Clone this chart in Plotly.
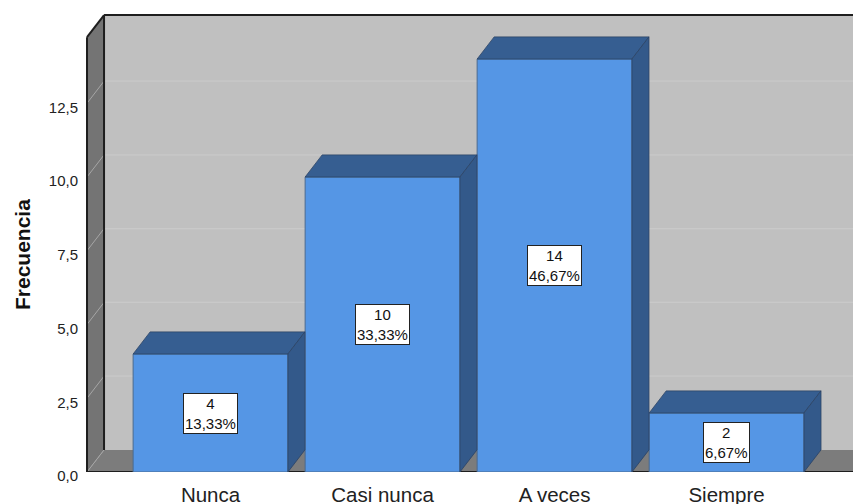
import plotly.graph_objects as go

# Frequency table
categories = ["Nunca", "Casi nunca", "A veces", "Siempre"]
counts = [4, 10, 14, 2]
percents = ["13,33%", "33,33%", "46,67%", "6,67%"]
y_ticks = [0, 2.5, 5.0, 7.5, 10.0, 12.5]

# Pseudo-3D geometry (category units / value units)
BAR_W = 0.9
DX = 0.099          # depth offset along x
DY = 0.75           # depth offset along y
X0, X1 = -0.7297, 3.735
Y_TOP = 15.56
WALL_X = -0.718
WALL_TOP = 15.49

FRONT = "#5596e5"
TOP = "#365e91"
SIDE = "#33598a"
EDGE = "#2c4466"
FONT = "Liberation Sans, Arial"

fig = go.Figure()

# Back wall, left wall and floor
shapes = [
    dict(type="rect", x0=WALL_X + DX, x1=X1 + 1, y0=DY, y1=WALL_TOP,
         fillcolor="#c0c0c0", line=dict(width=0), layer="below"),
    dict(type="path",
         path=f"M {WALL_X},0 L {WALL_X},{WALL_TOP - DY} L {WALL_X + DX},{WALL_TOP} L {WALL_X + DX},{DY} Z",
         fillcolor="#747474", line=dict(width=0), layer="below"),
    dict(type="path",
         path=f"M {WALL_X},0 L {WALL_X + DX},{DY} L {X1 + 1},{DY} L {X1 + 1},0 Z",
         fillcolor="#7c7c7c", line=dict(width=0), layer="below"),
]
# grid lines on the back wall and their diagonals on the left wall
for v in y_ticks[1:]:
    shapes.append(dict(type="line", x0=WALL_X + DX, x1=X1 + 1, y0=v + DY, y1=v + DY,
                       line=dict(color="#c9c9c9", width=1.2), layer="below"))
for v in y_ticks:
    shapes.append(dict(type="line", x0=WALL_X, x1=WALL_X + DX, y0=v, y1=v + DY,
                       line=dict(color="#a6a6a6", width=1), layer="below"))
# frame edges
edge = dict(color="#1e1e1e", width=2)
shapes += [
    dict(type="line", x0=WALL_X + DX, x1=WALL_X + DX, y0=DY, y1=WALL_TOP, line=edge, layer="below"),
    dict(type="line", x0=WALL_X + DX, x1=X1 + 1, y0=WALL_TOP, y1=WALL_TOP, line=edge, layer="below"),
    dict(type="line", x0=WALL_X, x1=WALL_X, y0=0, y1=WALL_TOP - DY, line=edge, layer="below"),
    dict(type="line", x0=WALL_X, x1=WALL_X + DX, y0=WALL_TOP - DY, y1=WALL_TOP, line=edge, layer="below"),
    dict(type="line", x0=WALL_X, x1=X1 + 1, y0=0, y1=0, line=edge, layer="below"),
]

# Front faces of the bars
xs = list(range(len(categories)))
fig.add_trace(go.Bar(x=xs, y=counts, width=BAR_W, marker=dict(color=FRONT,
                     line=dict(color="#4a6a90", width=1)), hoverinfo="skip"))

# Top and side faces
h = BAR_W / 2
for c, v in zip(xs, counts):
    fig.add_trace(go.Scatter(
        x=[c - h, c + h, c + h + DX, c - h + DX, c - h],
        y=[v, v, v + DY, v + DY, v],
        fill="toself", fillcolor=TOP, mode="lines",
        line=dict(color=EDGE, width=0.8), hoverinfo="skip"))
    fig.add_trace(go.Scatter(
        x=[c + h, c + h, c + h + DX, c + h + DX, c + h],
        y=[0, v, v + DY, DY, 0],
        fill="toself", fillcolor=SIDE, mode="lines",
        line=dict(color=EDGE, width=0.8), hoverinfo="skip"))

# Value labels
annotations = []
for c, v, p in zip(xs, counts, percents):
    annotations.append(dict(
        x=c, y=v / 2, xref="x", yref="y", text=f"{v}<br>{p}", showarrow=False,
        font=dict(family=FONT, size=15, color="#111"),
        bgcolor="white", bordercolor="#222", borderwidth=1, borderpad=1))
annotations.append(dict(
    x=(22 - 85) / 768, y=(504 - 32 - 255) / 459, xref="paper", yref="paper",
    xanchor="center", yanchor="middle",
    text="<b>Frecuencia</b>", textangle=-90, showarrow=False,
    font=dict(family=FONT, size=21, color="#111")))

fig.update_layout(
    width=853, height=504,
    margin=dict(l=85, r=0, t=13, b=32, autoexpand=False),
    paper_bgcolor="white", plot_bgcolor="white",
    showlegend=False, separators=",.",
    shapes=shapes, annotations=annotations,
    xaxis=dict(range=[X0, X1], tickvals=xs, ticktext=categories, showgrid=False,
               zeroline=False, showline=False, ticks="", ticklabelstandoff=8,
               automargin=False,
               tickfont=dict(family=FONT, size=20.5, color="#222")),
    yaxis=dict(range=[0, Y_TOP], tickvals=y_ticks, tickformat=".1f", showgrid=False,
               zeroline=False, showline=False, ticks="", ticklabelstandoff=6,
               ticklabelshift=4, automargin=False,
               tickfont=dict(family=FONT, size=15, color="#222")),
)

fig.write_html("out.html")
